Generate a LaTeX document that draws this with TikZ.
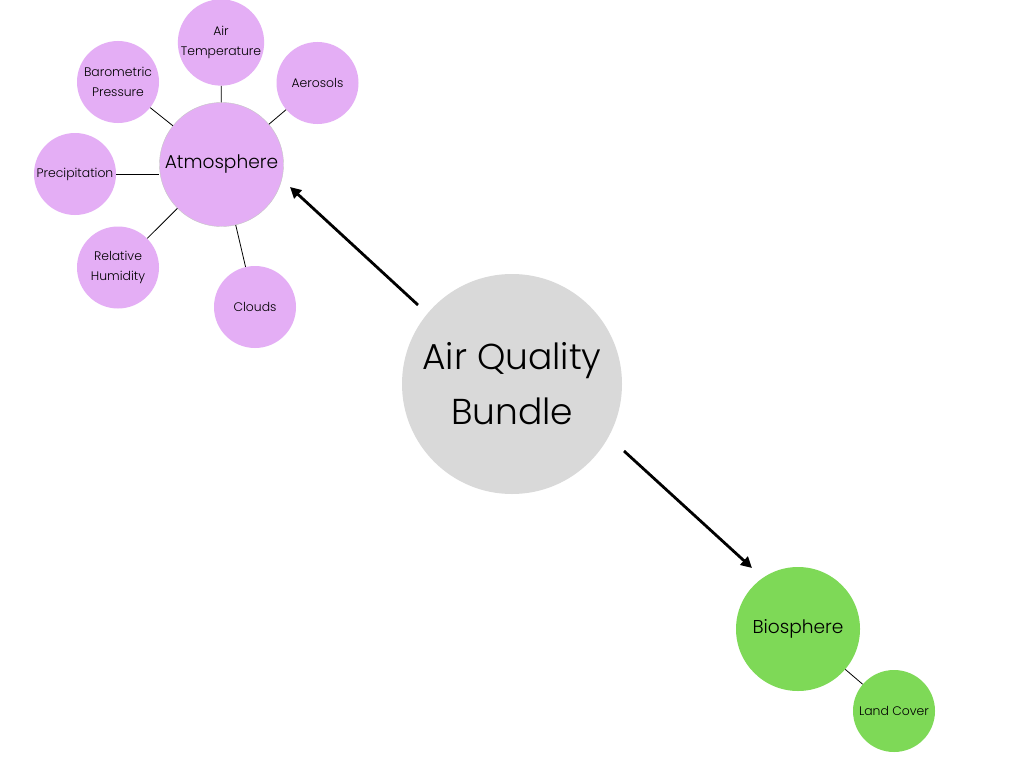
\documentclass[tikz,border=0pt]{standalone}
\usepackage{fontspec}
\setmainfont{Poppins Light}
\usetikzlibrary{arrows.meta}
\definecolor{lilac}{RGB}{228,174,245}
\definecolor{leaf}{RGB}{126,217,87}
\definecolor{bundlegray}{RGB}{217,217,217}
\begin{document}
\begin{tikzpicture}[x=1pt,y=-1pt,
  bubble/.style={circle,inner sep=0pt,align=center,text=black},
  small/.style={bubble,minimum size=82pt,font=\fontsize{12.4}{20}\selectfont},
  medium/.style={bubble,minimum size=124pt,font=\fontsize{18.6}{24}\selectfont},
  link/.style={draw=black,line width=0.8pt},
  bigarrow/.style={draw=black,line width=2.8pt,-{Triangle[length=11pt,width=11pt]}}]
\useasboundingbox (0,0) rectangle (1024,768);
\fill[white] (0,0) rectangle (1024,768);
% central node
\node[bubble,fill=bundlegray,minimum size=220pt,font=\fontsize{36}{55}\selectfont] (aqb) at (512,384) {Air Quality\\Bundle};
% atmosphere cluster
\node[medium,fill=lilac,draw=gray!45,line width=0.4pt] (atm) at (221.5,164.5) {Atmosphere};
\node[small,fill=lilac] (temp) at (221,42.5) {Air\\Temperature};
\node[small,fill=lilac] (aero) at (317.5,83) {Aerosols};
\node[small,fill=lilac] (baro) at (118,82) {Barometric\\Pressure};
\node[small,fill=lilac] (prec) at (75,174) {Precipitation};
\node[small,fill=lilac] (hum) at (118,267.5) {Relative\\Humidity};
\node[small,fill=lilac] (cloud) at (255,307) {Clouds};
% biosphere cluster
\node[medium,fill=leaf] (bio) at (798,629) {Biosphere};
\node[small,fill=leaf] (land) at (894,711) {Land Cover};
% links
\draw[link] (temp) -- (atm);
\draw[link] (aero) -- (atm);
\draw[link] (baro) -- (atm);
\draw[link] (prec.east) -- (prec.east -| atm.west);
\draw[link] (hum) -- (atm);
\draw[link] (cloud) -- (atm);
\draw[link] (bio) -- (land);
% arrows
\coordinate (a1tail) at (418,305);
\coordinate (a1head) at (290,187);
\coordinate (a2tail) at (624,451);
\coordinate (a2head) at (752,568);
\draw[bigarrow] (a1tail) -- (a1head);
\draw[bigarrow] (a2tail) -- (a2head);
\end{tikzpicture}
\end{document}
